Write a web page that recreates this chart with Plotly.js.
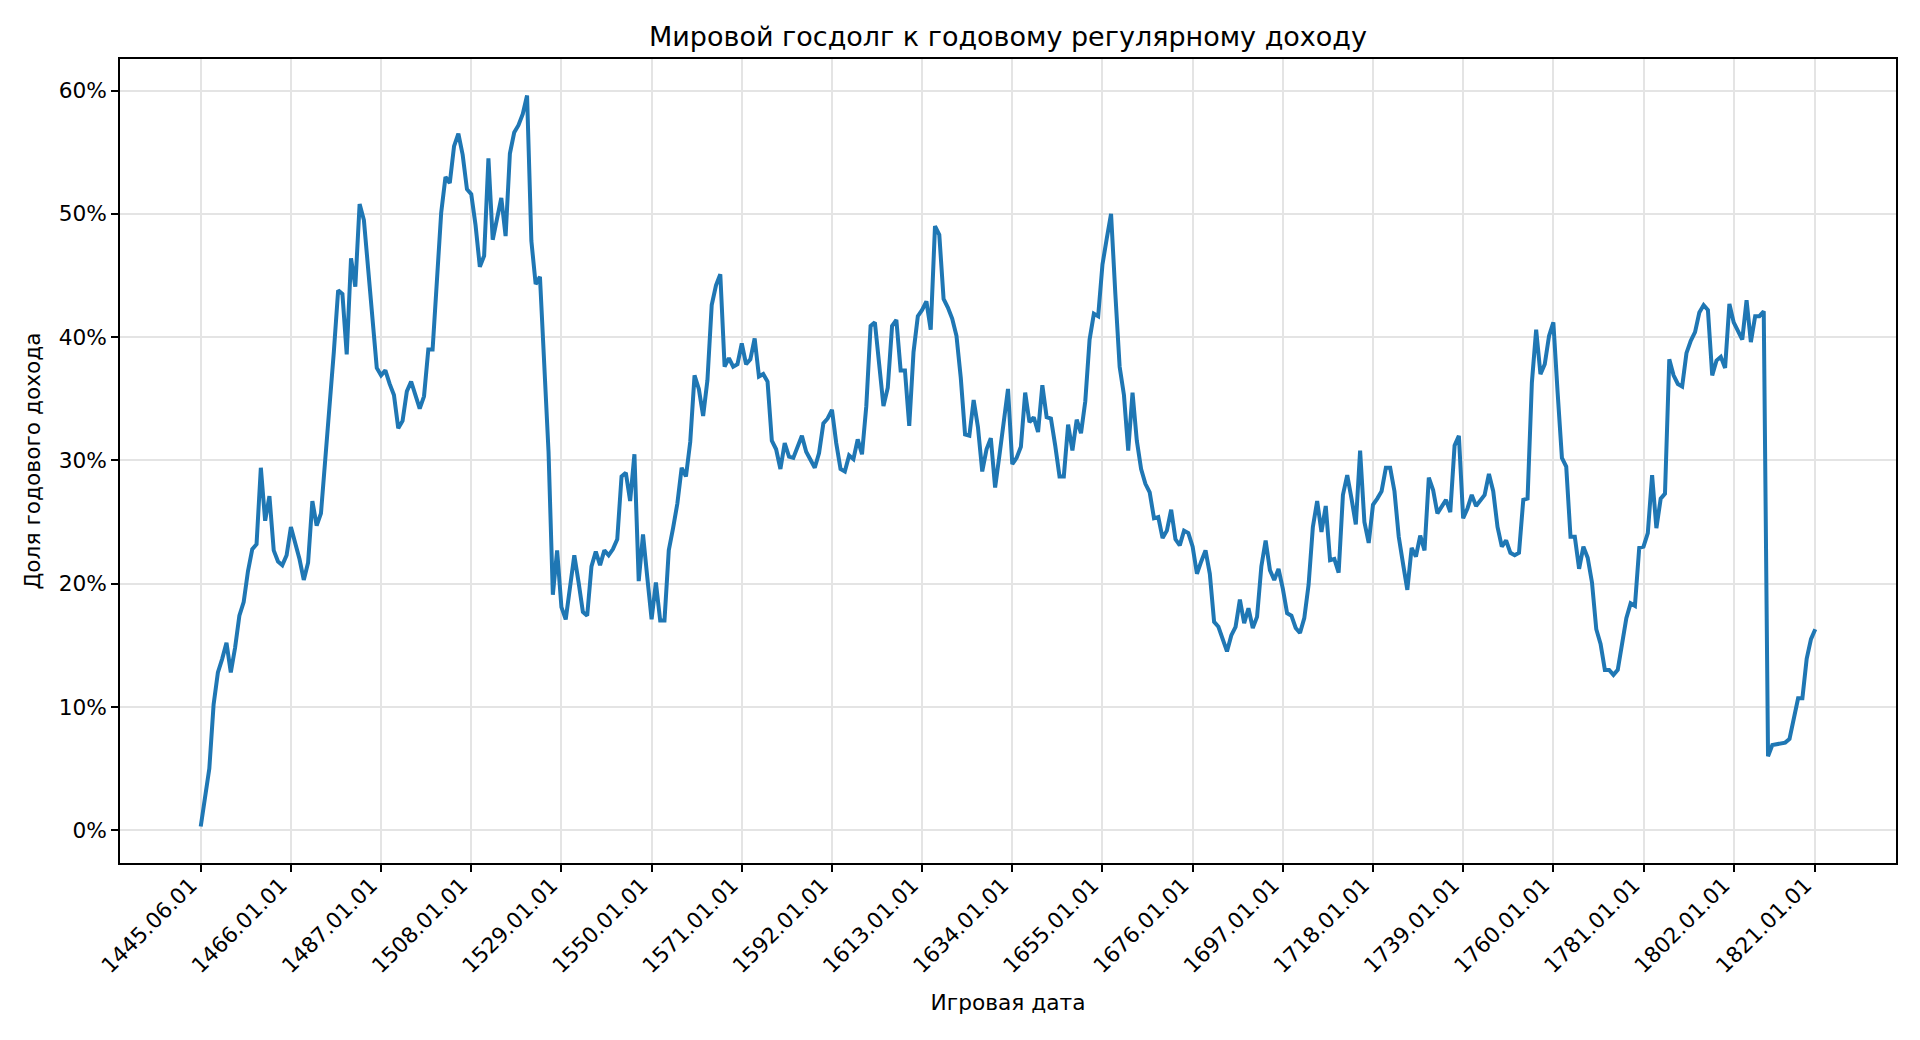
<!DOCTYPE html>
<html>
<head>
<meta charset="utf-8">
<script src="https://cdn.plot.ly/plotly-3.0.1.min.js"></script>
<style>
  html, body { margin: 0; padding: 0; background: #ffffff; }
  #chart { width: 1920px; height: 1040px; }
</style>
</head>
<body>
<div id="chart"></div>
<script>
// World debt vs yearly income

// First record is mid-year, then one record per 1 January
const firstDate = "1445.06.01";
const firstYear = 1446;
const lastYear = 1821;

// Debt share of yearly income, %
const debtShare = [
  0.3, 2.9, 5.0, 10.2, 12.8, 13.9, 15.2, 12.8, 14.8, 17.4,
  18.5, 21.0, 22.8, 23.2, 29.4, 25.1, 27.1, 22.7, 21.8, 21.5,
  22.3, 24.6, 23.3, 22.0, 20.3, 21.7, 26.7, 24.7, 25.7, 29.9,
  34.7, 38.8, 43.8, 43.5, 38.6, 46.4, 44.1, 50.8, 49.5, 45.3,
  41.3, 37.5, 36.9, 37.3, 36.2, 35.3, 32.6, 33.2, 35.6, 36.4,
  35.3, 34.2, 35.2, 39.0, 39.0, 45.2, 50.1, 53.0, 52.5, 55.5,
  56.5, 54.8, 52.0, 51.6, 49.1, 45.7, 46.6, 54.5, 47.9, 49.6,
  51.3, 48.2, 54.9, 56.6, 57.2, 58.1, 59.6, 47.8, 44.3, 44.9,
  37.8, 30.7, 19.1, 22.7, 18.1, 17.1, 19.7, 22.3, 20.1, 17.7,
  17.4, 21.4, 22.6, 21.5, 22.7, 22.3, 22.8, 23.6, 28.7, 29.0,
  26.7, 30.5, 20.2, 24.0, 20.5, 17.1, 20.1, 17.0, 17.0, 22.7,
  24.5, 26.5, 29.4, 28.7, 31.5, 36.9, 35.8, 33.6, 36.5, 42.6,
  44.2, 45.1, 37.6, 38.3, 37.6, 37.8, 39.5, 37.8, 38.2, 39.9,
  36.8, 37.0, 36.4, 31.6, 30.9, 29.3, 31.4, 30.3, 30.2, 31.1,
  32.0, 30.7, 30.0, 29.4, 30.6, 33.0, 33.4, 34.1, 31.4, 29.3,
  29.1, 30.4, 30.1, 31.7, 30.5, 34.4, 40.9, 41.2, 37.8, 34.4,
  35.9, 40.9, 41.4, 37.3, 37.3, 32.8, 38.8, 41.7, 42.2, 42.9,
  40.6, 49.0, 48.3, 43.1, 42.4, 41.5, 40.1, 36.7, 32.1, 32.0,
  34.9, 32.7, 29.1, 30.9, 31.8, 27.8, 30.4, 33.2, 35.8, 29.7,
  30.2, 31.1, 35.5, 33.1, 33.5, 32.3, 36.1, 33.5, 33.4, 31.2,
  28.7, 28.7, 32.9, 30.8, 33.3, 32.2, 34.8, 39.8, 41.9, 41.7,
  45.9, 48.0, 50.0, 43.5, 37.6, 35.3, 30.8, 35.5, 31.6, 29.3,
  28.1, 27.4, 25.3, 25.4, 23.7, 24.3, 26.0, 23.6, 23.1, 24.3,
  24.1, 23.0, 20.8, 21.8, 22.7, 20.8, 16.9, 16.5, 15.4, 14.5,
  15.8, 16.5, 18.7, 16.8, 18.0, 16.4, 17.3, 21.4, 23.5, 21.1,
  20.3, 21.2, 19.6, 17.6, 17.4, 16.4, 16.0, 17.2, 19.9, 24.6,
  26.7, 24.2, 26.3, 21.9, 22.0, 20.9, 27.2, 28.8, 26.9, 24.8,
  30.8, 25.0, 23.3, 26.4, 26.9, 27.5, 29.4, 29.4, 27.5, 23.8,
  21.6, 19.5, 22.9, 22.2, 23.9, 22.7, 28.6, 27.6, 25.7, 26.3,
  26.8, 25.8, 31.2, 32.0, 25.3, 26.1, 27.2, 26.3, 26.8, 27.2,
  28.9, 27.5, 24.6, 23.0, 23.5, 22.5, 22.3, 22.5, 26.8, 26.9,
  36.3, 40.6, 37.0, 37.8, 40.1, 41.2, 35.5, 30.2, 29.5, 23.8,
  23.8, 21.2, 23.0, 22.1, 20.1, 16.3, 15.1, 13.0, 13.0, 12.6,
  13.0, 15.1, 17.2, 18.4, 18.2, 22.9, 23.0, 24.1, 28.8, 24.5,
  26.9, 27.3, 38.2, 36.9, 36.2, 36.0, 38.7, 39.7, 40.4, 42.0,
  42.6, 42.2, 36.9, 38.1, 38.4, 37.5, 42.7, 41.2, 40.4, 39.8,
  43.0, 39.6, 41.7, 41.7, 42.1, 6.0, 6.9, 6.95, 7.0, 7.1,
  7.4, 9.2, 10.7, 10.7, 13.9, 15.5, 16.3
];

// Dates shown under the x axis
const tickDates = [
  "1445.06.01", "1466.01.01", "1487.01.01", "1508.01.01", "1529.01.01",
  "1550.01.01", "1571.01.01", "1592.01.01", "1613.01.01", "1634.01.01",
  "1655.01.01", "1676.01.01", "1697.01.01", "1718.01.01", "1739.01.01",
  "1760.01.01", "1781.01.01", "1802.01.01", "1821.01.01"
];

const yTicks = [0, 10, 20, 30, 40, 50, 60];

const gameDates = [firstDate];
for (let y = firstYear; y <= lastYear; y++) {
  gameDates.push(y + ".01.01");
}

const font = "DejaVu Sans, Liberation Sans, sans-serif";

const debtTrace = {
  x: gameDates,
  y: debtShare,
  type: "scatter",
  mode: "lines",
  line: { color: "#1f77b4", width: 4 },
  hovertemplate: "%{x}<br>%{y:.1f}%<extra></extra>",
};

// matplotlib-like 5% padding around the data
const n = gameDates.length;
const yMin = Math.min(...debtShare);
const yMax = Math.max(...debtShare);
const yPad = (yMax - yMin) * 0.05;

const layout = {
  width: 1920,
  height: 1040,
  margin: { t: 59, l: 120, r: 24, b: 177 },
  paper_bgcolor: "#ffffff",
  plot_bgcolor: "#ffffff",
  showlegend: false,
  font: { family: font, color: "#000000", size: 21.7 },
  title: {
    text: "Мировой госдолг к годовому регулярному доходу",
    font: { family: font, size: 27, color: "#000000" },
    x: 0.5,
    xref: "paper",
    y: 1 - 37 / 1040,
    yanchor: "middle",
  },
  xaxis: {
    type: "category",
    range: [-(n - 1) * 0.05, (n - 1) * 1.05],
    tickmode: "array",
    tickvals: tickDates,
    ticktext: tickDates,
    tickangle: -45,
    ticklabelshift: -10,
    ticklabelstandoff: -8,
    ticks: "outside",
    ticklen: 7,
    tickwidth: 1.6,
    tickcolor: "#000000",
    tickfont: { family: font, size: 21.7, color: "#000000" },
    showline: true,
    linecolor: "#000000",
    linewidth: 1.6,
    mirror: true,
    showgrid: true,
    gridcolor: "#e4e4e4",
    gridwidth: 1.6,
    zeroline: false,
    title: {
      text: "Игровая дата",
      font: { family: font, size: 21.7, color: "#000000" },
      standoff: 18,
    },
  },
  yaxis: {
    range: [yMin - yPad, yMax + yPad],
    tickmode: "array",
    tickvals: yTicks,
    ticktext: yTicks.map(v => v + "%"),
    ticks: "outside",
    ticklen: 7,
    tickwidth: 1.6,
    tickcolor: "#000000",
    tickfont: { family: font, size: 21.7, color: "#000000" },
    showline: true,
    linecolor: "#000000",
    linewidth: 1.6,
    mirror: true,
    showgrid: true,
    gridcolor: "#e4e4e4",
    gridwidth: 1.6,
    zeroline: false,
    title: {
      text: "Доля годового дохода",
      font: { family: font, size: 21.7, color: "#000000" },
      standoff: 12,
    },
  },
  dragmode: false,
};

const config = { responsive: false, displayModeBar: false };

Plotly.newPlot("chart", [debtTrace], layout, config);
</script>
</body>
</html>
